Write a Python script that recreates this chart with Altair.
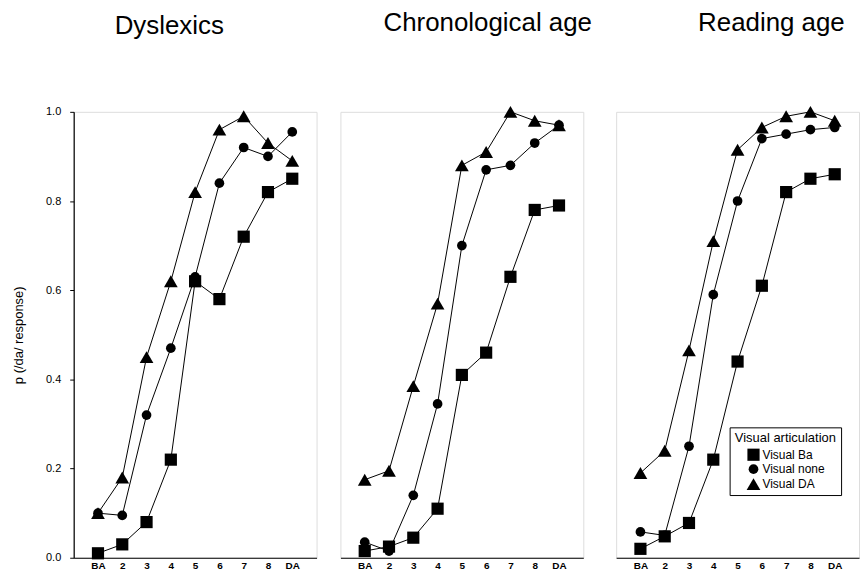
import altair as alt
import pandas as pd

cats = ["BA", "2", "3", "4", "5", "6", "7", "8", "DA"]
series_names = ["Visual Ba", "Visual none", "Visual DA"]
panel_titles = ["Dyslexics", "Chronological age", "Reading age"]

dys_ba = [0.01, 0.03, 0.08, 0.22, 0.62, 0.58, 0.72, 0.82, 0.85]
dys_none = [0.10, 0.095, 0.32, 0.47, 0.63, 0.84, 0.92, 0.90, 0.955]
dys_da = [0.10, 0.18, 0.45, 0.62, 0.82, 0.96, 0.99, 0.93, 0.89]

ca_ba = [0.015, 0.025, 0.045, 0.11, 0.41, 0.46, 0.63, 0.78, 0.79]
ca_none = [0.035, 0.015, 0.14, 0.345, 0.70, 0.87, 0.88, 0.93, 0.97]
ca_da = [0.175, 0.195, 0.385, 0.57, 0.88, 0.91, 1.0, 0.98, 0.97]

ra_ba = [0.02, 0.048, 0.078, 0.22, 0.44, 0.61, 0.82, 0.85, 0.86]
ra_none = [0.058, 0.05, 0.25, 0.59, 0.80, 0.94, 0.95, 0.96, 0.965]
ra_da = [0.19, 0.24, 0.465, 0.71, 0.915, 0.965, 0.99, 1.0, 0.98]

panel_data = [
    (dys_ba, dys_none, dys_da),
    (ca_ba, ca_none, ca_da),
    (ra_ba, ra_none, ra_da),
]

FONT = "Liberation Sans"


def make_df(vals):
    rows = []
    for name, ys in zip(series_names, vals):
        for c, y in zip(cats, ys):
            rows.append({"cond": c, "p": y, "series": name})
    return pd.DataFrame(rows)


title_dx = [-26, 26, 34]
title_offset = [67, 70, 70]


def panel(i):
    df = make_df(panel_data[i])
    first = i == 0
    last = i == 2
    x = alt.X(
        "cond:N",
        sort=cats,
        scale=alt.Scale(type="point", padding=1),
        axis=alt.Axis(
            title=None, labelAngle=0, ticks=False, labelPadding=3,
            labelFontSize=10, labelFontWeight="bold", labelColor="black",
            domainColor="black", domainWidth=1.2,
        ),
    )
    if first:
        yaxis = alt.Axis(
            title="p (/da/ response)", values=[0, 0.2, 0.4, 0.6, 0.8, 1.0],
            format=".1f", tickSize=4, tickColor="black", domainColor="black",
            domainWidth=1.2, labelFontSize=11, labelColor="black",
            labelPadding=9, titleFontSize=13, titleFontWeight="normal",
            titleColor="black", titlePadding=20, grid=False,
        )
    else:
        yaxis = None
    y = alt.Y("p:Q", scale=alt.Scale(domain=[0, 1], nice=False), axis=yaxis)
    base = alt.Chart(df)
    lines = base.mark_line(color="black", strokeWidth=1, clip=False).encode(
        x=x, y=y, detail="series:N"
    )
    if last:
        leg = alt.Legend(
            title="Visual articulation", orient="none", legendX=114,
            legendY=317, strokeColor="black", padding=5,
            titleFontSize=13, titleFontWeight="normal", titleAnchor="middle",
            titleColor="black", titlePadding=3, labelFontSize=12,
            labelColor="black", symbolFillColor="black",
            symbolStrokeColor="black", symbolStrokeWidth=0, rowPadding=2,
            labelOffset=2, fillColor="white",
        )
    else:
        leg = None
    pts = base.mark_point(filled=True, color="black", opacity=1, clip=False).encode(
        x=x,
        y=y,
        shape=alt.Shape(
            "series:N",
            scale=alt.Scale(domain=series_names,
                            range=["square", "circle", "triangle-up"]),
            legend=leg,
        ),
        size=alt.Size(
            "series:N",
            scale=alt.Scale(type="ordinal", domain=series_names,
                            range=[150, 95, 190]),
            legend=leg,
        ),
    )
    return alt.layer(lines, pts).properties(
        width=244,
        height=448,
        title=alt.TitleParams(
            panel_titles[i], fontSize=26, fontWeight="normal", font=FONT,
            color="black", offset=title_offset[i], dx=title_dx[i],
            anchor="middle", frame="group",
        ),
    )


chart = (
    alt.hconcat(panel(0), panel(1), panel(2), spacing=22)
    .resolve_legend(shape="independent", size="independent")
    .properties(padding={"left": 4, "top": 0, "right": 0, "bottom": 0})
    .configure_view(stroke="black", strokeWidth=1.2)
    .configure(font=FONT)
    .configure_axis(labelFont=FONT, titleFont=FONT)
    .configure_legend(labelFont=FONT, titleFont=FONT)
)

chart.save("out.html", embed_options={"renderer": "svg", "actions": False})
